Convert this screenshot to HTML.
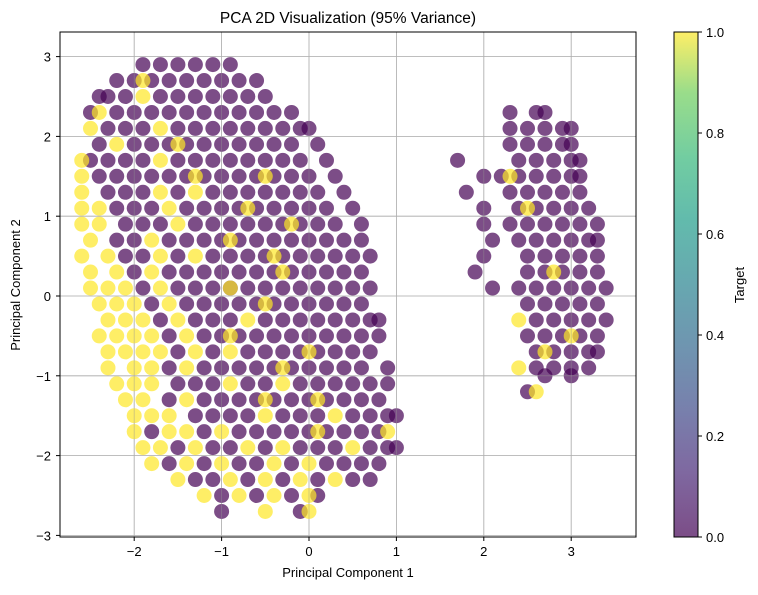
<!DOCTYPE html>
<html><head><meta charset="utf-8"><style>
body{margin:0;background:#fff}
svg text{font-family:"Liberation Sans",sans-serif;fill:#000}
</style></head><body>
<svg width="758" height="590" viewBox="0 0 758 590">
<defs>
<linearGradient id="vir" x1="0" y1="1" x2="0" y2="0">
<stop offset="0" stop-color="#440154"/><stop offset="0.13" stop-color="#482878"/><stop offset="0.25" stop-color="#3e4989"/><stop offset="0.38" stop-color="#31688e"/><stop offset="0.5" stop-color="#26828e"/><stop offset="0.63" stop-color="#1f9e89"/><stop offset="0.75" stop-color="#35b779"/><stop offset="0.88" stop-color="#6ece58"/><stop offset="1" stop-color="#fde725"/>
</linearGradient>
<clipPath id="clip"><rect x="60" y="32" width="576" height="505"/></clipPath>
</defs>
<rect x="60" y="32" width="576" height="505" fill="#fff"/>
<g id="grid"></g>
<g id="pts" clip-path="url(#clip)"></g>
<g id="gridtop"></g>
<rect x="60" y="32" width="576" height="505" fill="none" stroke="#000" stroke-width="1"/>
<g id="ticks"></g>
<text x="348" y="23" font-size="15.5" text-anchor="middle">PCA 2D Visualization (95% Variance)</text>
<text x="348" y="577" font-size="13" text-anchor="middle">Principal Component 1</text>
<text x="20" y="285" font-size="13" text-anchor="middle" transform="rotate(-90 20 285)">Principal Component 2</text>
<rect x="674" y="32" width="24" height="505" fill="url(#vir)" opacity="0.7"/>
<rect x="674" y="32" width="24" height="505" fill="none" stroke="#000" stroke-width="1"/>
<g id="cbticks"></g>
<text x="744" y="285" font-size="13" text-anchor="middle" transform="rotate(-90 744 285)">Target</text>
</svg>
<script>
const xTicks=[-2,-1,0,1,2,3];
const yTicks=[-3,-2,-1,0,1,2,3];
const cbTicks=[0,0.2,0.4,0.6,0.8,1.0];
const purpleRows=[
[2.9,[-1.9,-1.7,-1.5,-1.3,-1.1,-0.9]],
[2.7,[-2.2,-2.0,-1.8,-1.6,-1.4,-1.2,-1.0,-0.8,-0.6]],
[2.5,[-2.4,-2.3,-2.1,-1.7,-1.5,-1.3,-1.1,-0.9,-0.7,-0.5]],
[2.3,[-2.5,-2.2,-2.0,-1.8,-1.6,-1.4,-1.2,-1.0,-0.8,-0.6,-0.4,-0.2]],
[2.1,[-2.3,-2.1,-1.9,-1.5,-1.3,-1.1,-0.9,-0.7,-0.5,-0.3,-0.1,0.0]],
[1.9,[-2.4,-2.0,-1.8,-1.6,-1.4,-1.2,-1.0,-0.8,-0.6,-0.4,-0.2,0.1]],
[1.7,[-2.5,-2.3,-2.1,-1.9,-1.5,-1.3,-1.1,-0.9,-0.7,-0.5,-0.3,-0.1,0.2]],
[1.5,[-2.4,-2.2,-2.0,-1.8,-1.6,-1.4,-1.2,-1.0,-0.8,-0.6,-0.4,-0.2,0.0,0.3]],
[1.3,[-2.3,-2.1,-1.9,-1.5,-1.1,-0.9,-0.7,-0.5,-0.3,-0.1,0.1,0.4]],
[1.1,[-2.2,-2.0,-1.8,-1.4,-1.2,-1.0,-0.8,-0.6,-0.4,-0.2,0.0,0.2,0.5]],
[0.9,[-2.1,-1.9,-1.7,-1.3,-1.1,-0.9,-0.7,-0.5,-0.3,-0.1,0.1,0.3,0.6]],
[0.7,[-2.2,-2.0,-1.6,-1.4,-1.2,-1.0,-0.8,-0.6,-0.4,-0.2,0.0,0.2,0.4,0.6]],
[0.5,[-2.1,-1.9,-1.5,-1.1,-0.9,-0.7,-0.5,-0.3,-0.1,0.1,0.3,0.5,0.7]],
[0.3,[-2.0,-1.6,-1.4,-1.2,-1.0,-0.8,-0.6,-0.4,-0.2,0.0,0.2,0.4,0.6]],
[0.1,[-1.9,-1.5,-1.3,-1.1,-0.9,-0.7,-0.5,-0.3,-0.1,0.1,0.3,0.5,0.7]],
[-0.1,[-1.8,-1.4,-1.2,-1.0,-0.8,-0.6,-0.4,-0.2,0.0,0.2,0.4,0.6]],
[-0.3,[-1.7,-1.3,-1.1,-0.9,-0.5,-0.3,-0.1,0.1,0.3,0.5,0.7,0.8]],
[-0.5,[-1.6,-1.2,-1.0,-0.8,-0.6,-0.4,-0.2,0.0,0.2,0.4,0.6,0.8]],
[-0.7,[-1.5,-1.1,-0.7,-0.5,-0.3,-0.1,0.1,0.3,0.5,0.7]],
[-0.9,[-1.6,-1.2,-1.0,-0.8,-0.6,-0.4,-0.2,0.0,0.2,0.4,0.6,0.9]],
[-1.1,[-1.5,-1.3,-1.1,-0.7,-0.5,-0.1,0.1,0.3,0.5,0.7,0.9]],
[-1.3,[-1.6,-1.2,-1.0,-0.8,-0.6,-0.4,-0.2,0.0,0.2,0.4,0.6,0.8]],
[-1.5,[-1.3,-1.1,-0.9,-0.7,-0.3,-0.1,0.1,0.5,0.7,0.9,1.0]],
[-1.7,[-1.8,-1.2,-0.8,-0.6,-0.4,-0.2,0.0,0.2,0.4,0.6,0.8]],
[-1.9,[-1.5,-1.1,-0.9,-0.5,-0.1,0.1,0.3,0.7,0.9,1.0]],
[-2.1,[-1.6,-1.2,-0.8,-0.6,-0.2,0.2,0.4,0.6,0.8]],
[-2.3,[-1.3,-1.1,-0.7,-0.3,0.1,0.5,0.7]],
[-2.5,[-1.0,-0.6,-0.2,0.1]],
[-2.7,[-1.0,-0.1]],
[2.3,[2.3,2.6,2.7]],
[2.1,[2.3,2.5,2.7,2.9,3.0]],
[1.9,[2.3,2.5,2.7,2.9,3.0]],
[1.7,[1.7,2.4,2.6,2.8,3.0,3.1]],
[1.5,[2.0,2.2,2.4,2.6,2.8,3.0,3.1]],
[1.3,[1.8,2.3,2.5,2.7,2.9,3.1]],
[1.1,[2.0,2.4,2.6,2.8,3.0,3.2]],
[0.9,[2.0,2.3,2.5,2.7,2.9,3.1,3.3]],
[0.7,[2.1,2.4,2.6,2.8,3.0,3.2,3.3]],
[0.5,[2.0,2.5,2.7,2.9,3.1,3.3]],
[0.3,[1.9,2.5,2.7,2.9,3.1,3.3]],
[0.1,[2.1,2.4,2.6,2.8,3.0,3.2,3.4]],
[-0.1,[2.5,2.7,2.9,3.1,3.3]],
[-0.3,[2.6,2.8,3.0,3.2,3.4]],
[-0.5,[2.5,2.7,2.9,3.1,3.3]],
[-0.7,[2.6,2.8,3.0,3.2,3.3]],
[-0.9,[2.6,2.8,3.0,3.2]],
[-1.0,[2.7,3.0]],
[-1.2,[2.5]]
];
const yellowRows=[
[2.7,[-1.9]],[2.5,[-1.9]],[2.3,[-2.4]],[2.1,[-2.5,-1.7]],[1.9,[-2.2,-1.5]],
[1.7,[-1.7,-2.6]],[1.5,[-2.6,-1.3,-0.5]],[1.3,[-2.6,-1.7,-1.3]],[1.1,[-2.6,-2.4,-1.6,-0.7]],
[0.9,[-2.6,-2.4,-1.5,-0.2]],[0.7,[-2.5,-1.8,-0.9]],[0.5,[-2.6,-2.3,-1.7,-1.3,-0.4]],
[0.3,[-2.5,-2.2,-1.8,-0.3]],[0.1,[-2.5,-2.3,-2.1,-1.7,-0.9]],[-0.1,[-2.4,-2.2,-2.0,-1.6,-0.5]],
[-0.3,[-2.3,-2.1,-1.9,-1.5,-0.7]],[-0.5,[-2.4,-2.2,-2.0,-1.8,-1.4,-0.9]],
[-0.7,[-2.3,-2.1,-1.9,-1.7,-1.3,-0.9,0.0]],[-0.9,[-2.3,-2.0,-1.8,-1.4,-0.3]],
[-1.1,[-2.2,-2.0,-1.8,-0.9,-0.3]],[-1.3,[-2.1,-1.9,-1.4,-0.5,0.1]],
[-1.5,[-2.0,-1.8,-1.6,-0.5,0.3]],[-1.7,[-2.0,-1.6,-1.4,-1.0,0.1,0.9]],
[-1.9,[-1.9,-1.7,-1.3,-0.7,-0.3,0.5]],[-2.1,[-1.8,-1.4,-1.0,-0.4,0.0]],
[-2.3,[-1.5,-0.9,-0.5,-0.1,0.3]],[-2.5,[-1.2,-0.8,-0.4,0.0]],[-2.7,[-0.5,0.0]],
[1.5,[2.3]],[1.1,[2.5]],[0.3,[2.8]],[-0.3,[2.4]],[-0.5,[3.0]],[-0.7,[2.7]],[-0.9,[2.4]],[-1.2,[2.6]]
];
const NS='http://www.w3.org/2000/svg';
function xs(v){return 309+v*87.4;}
function ys(v){return 296-v*79.8;}
function cbs(v){return 537-v*505;}
const grid=document.getElementById('grid'),ticks=document.getElementById('ticks'),pts=document.getElementById('pts'),cbt=document.getElementById('cbticks'),gt=document.getElementById('gridtop');
function mk(tag,a,p){const e=document.createElementNS(NS,tag);for(const k in a)e.setAttribute(k,a[k]);p.appendChild(e);return e;}
xTicks.forEach(t=>{const x=xs(t);
 const g=mk('line',{x1:x,x2:x,y1:32,y2:537,stroke:'#b0b0b0','stroke-width':0.8},grid);
 
 
 mk('line',{x1:x,x2:x,y1:32,y2:537,stroke:'#b0b0b0','stroke-width':0.8,'stroke-opacity':0.5},gt);
 mk('line',{x1:x,x2:x,y1:537,y2:541,stroke:'#000'},ticks);
 const l=mk('text',{x:x,y:556,'font-size':13,'text-anchor':'middle'},ticks);l.textContent=(t<0?'\u2212'+(-t):t);
 
 });
yTicks.forEach(t=>{const y=ys(t);
 const g=mk('line',{x1:60,x2:636,y1:y,y2:y,stroke:'#b0b0b0','stroke-width':0.8},grid);
 
 
 mk('line',{x1:60,x2:636,y1:y,y2:y,stroke:'#b0b0b0','stroke-width':0.8,'stroke-opacity':0.5},gt);
 mk('line',{x1:56,x2:60,y1:y,y2:y,stroke:'#000'},ticks);
 const l=mk('text',{x:51,y:y+5,'font-size':13,'text-anchor':'end'},ticks);l.textContent=(t<0?'\u2212'+(-t):t);
 
 });
cbTicks.forEach(t=>{const y=cbs(t);
 mk('line',{x1:698,x2:702,y1:y,y2:y,stroke:'#000'},cbt);
 const l=mk('text',{x:706,y:y+5,'font-size':13},cbt);l.textContent=t.toFixed(1);
 
 });
function draw(rows,col,name){rows.forEach(r=>r[1].forEach(x=>{
 const c=mk('circle',{cx:xs(x),cy:ys(r[0]),r:7.5,fill:col,'fill-opacity':0.7},pts);
 
 }));}
draw(purpleRows,'#440154','point-target-0');
draw(yellowRows,'#fde725','point-target-1');
</script>
</body></html>
